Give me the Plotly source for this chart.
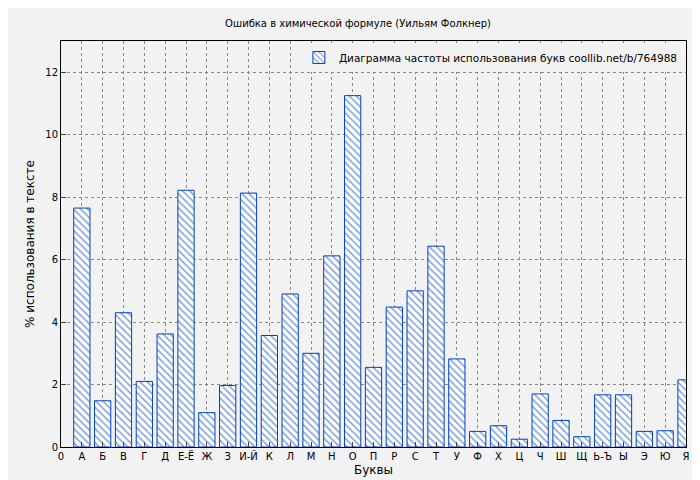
import plotly.graph_objects as go

letters = ["А", "Б", "В", "Г", "Д", "Е-Ё", "Ж", "З", "И-Й", "К", "Л", "М", "Н", "О", "П",
           "Р", "С", "Т", "У", "Ф", "Х", "Ц", "Ч", "Ш", "Щ", "Ь-Ъ", "Ы", "Э", "Ю", "Я"]
percent = [7.65, 1.48, 4.3, 2.1, 3.62, 8.22, 1.1, 1.97, 8.13, 3.57, 4.9, 3.0, 6.12, 11.25, 2.55,
           4.48, 5.0, 6.43, 2.82, 0.5, 0.68, 0.25, 1.7, 0.85, 0.33, 1.67, 1.67, 0.5, 0.52, 2.15]
tick_labels = ["0"] + letters

fig = go.Figure()
fig.add_trace(go.Bar(
    x=list(range(1, len(letters) + 1)),
    y=percent,
    width=0.78,
    name="Диаграмма частоты использования букв coollib.net/b/764988",
    marker=dict(color="white", line=dict(color="#0040c0", width=1),
                pattern=dict(shape="\\", fgcolor="#0040c0", bgcolor="white", size=5, solidity=0.3)),
))

fig.update_layout(
    width=700, height=480,
    paper_bgcolor="#f2f2f2", plot_bgcolor="#f2f2f2",
    font=dict(family="DejaVu Sans", size=10, color="black"),
    title=dict(text="Ошибка в химической формуле (Уильям Фолкнер)", x=0.5, y=0.975, font=dict(size=10)),
    margin=dict(l=53, r=22, t=33, b=41, autoexpand=False),
    showlegend=True,
    legend=dict(x=0.995, y=0.995, xanchor="right", yanchor="top", bgcolor="#f2f2f2",
                font=dict(size=10.5)),
    xaxis=dict(range=[0, len(letters)], tickvals=list(range(len(tick_labels))), ticktext=tick_labels,
               title=dict(text="Буквы", standoff=4), showgrid=True, gridcolor="#888", griddash="dot",
               showline=True, linecolor="black", mirror=True, ticks="inside", zeroline=False,
               automargin=False),
    yaxis=dict(range=[0, 13], dtick=2, title=dict(text="% использования в тексте", standoff=8),
               showgrid=True, gridcolor="#888", griddash="dot",
               showline=True, linecolor="black", mirror=True, ticks="inside", zeroline=False,
               automargin=False),
)

fig.write_html("out.html")
